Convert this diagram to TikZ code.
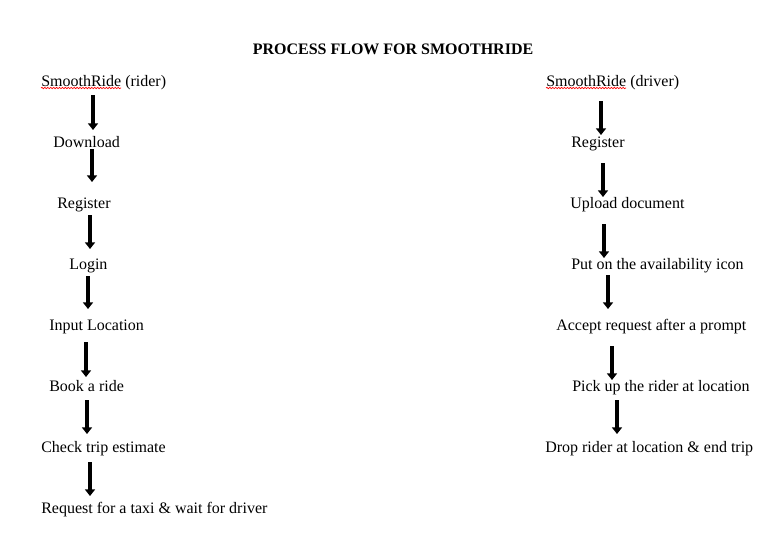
\documentclass[tikz,border=0pt]{standalone}
\usepackage{fontspec}
\setmainfont{Liberation Serif}
\usetikzlibrary{arrows.meta,decorations.pathmorphing}
\begin{document}
\begin{tikzpicture}[x=0.75pt,y=-0.75pt,
  lbl/.style={anchor=base west,inner sep=0pt,font=\fontsize{12}{14}\selectfont},
  flowarrow/.style={line width=3.2pt,-{Triangle[width=7.5pt,length=5pt]}},
  spell/.style={red,line width=0.5pt,decorate,decoration={snake,amplitude=0.5pt,segment length=2.2pt}}]
\useasboundingbox (0,0) rectangle (777,537);
\node[inner sep=0pt,anchor=base,font=\fontsize{12}{14}\selectfont\bfseries] (title) at (393,54) {PROCESS FLOW FOR SMOOTHRIDE};
% rider column
\node[lbl] (r0) at (41,86) {SmoothRide (rider)};
\node[lbl] (r1) at (53,147) {Download};
\node[lbl] (r2) at (57,208) {Register};
\node[lbl] (r3) at (69,269) {Login};
\node[lbl] (r4) at (49,330) {Input Location};
\node[lbl] (r5) at (49,391) {Book a ride};
\node[lbl] (r6) at (41,452) {Check trip estimate};
\node[lbl] (r7) at (41,513) {Request for a taxi \& wait for driver};
% driver column
\node[lbl] (d0) at (546,86) {SmoothRide (driver)};
\node[lbl] (d1) at (571,147) {Register};
\node[lbl] (d2) at (570,208) {Upload document};
\node[lbl] (d3) at (571,269) {Put on the availability icon};
\node[lbl] (d4) at (556,330) {Accept request after a prompt};
\node[lbl] (d5) at (572,391) {Pick up the rider at location};
\node[lbl] (d6) at (545,452) {Drop rider at location \& end trip};
% spell-check underlines
\coordinate (sr1) at (41,88); \coordinate (sr2) at (121,88);
\coordinate (sd1) at (546,88); \coordinate (sd2) at (626,88);
\draw[spell] (sr1) -- (sr2);
\draw[spell] (sd1) -- (sd2);
% rider arrows
\coordinate (ra1) at (93,95);  \coordinate (rb1) at (93,130);
\coordinate (ra2) at (92,149); \coordinate (rb2) at (92,182);
\coordinate (ra3) at (90,215); \coordinate (rb3) at (90,249);
\coordinate (ra4) at (88,276); \coordinate (rb4) at (88,309);
\coordinate (ra5) at (86,342); \coordinate (rb5) at (86,377);
\coordinate (ra6) at (87,400); \coordinate (rb6) at (87,434);
\coordinate (ra7) at (90,462); \coordinate (rb7) at (90,496);
\foreach \i in {1,...,7} {\draw[flowarrow] (ra\i) -- (rb\i);}
% driver arrows
\coordinate (da1) at (601,101); \coordinate (db1) at (601,135);
\coordinate (da2) at (603,163); \coordinate (db2) at (603,197);
\coordinate (da3) at (604,224); \coordinate (db3) at (604,258);
\coordinate (da4) at (608,275); \coordinate (db4) at (608,309);
\coordinate (da5) at (612,346); \coordinate (db5) at (612,380);
\coordinate (da6) at (617,400); \coordinate (db6) at (617,434);
\foreach \i in {1,...,6} {\draw[flowarrow] (da\i) -- (db\i);}
\end{tikzpicture}
\end{document}
